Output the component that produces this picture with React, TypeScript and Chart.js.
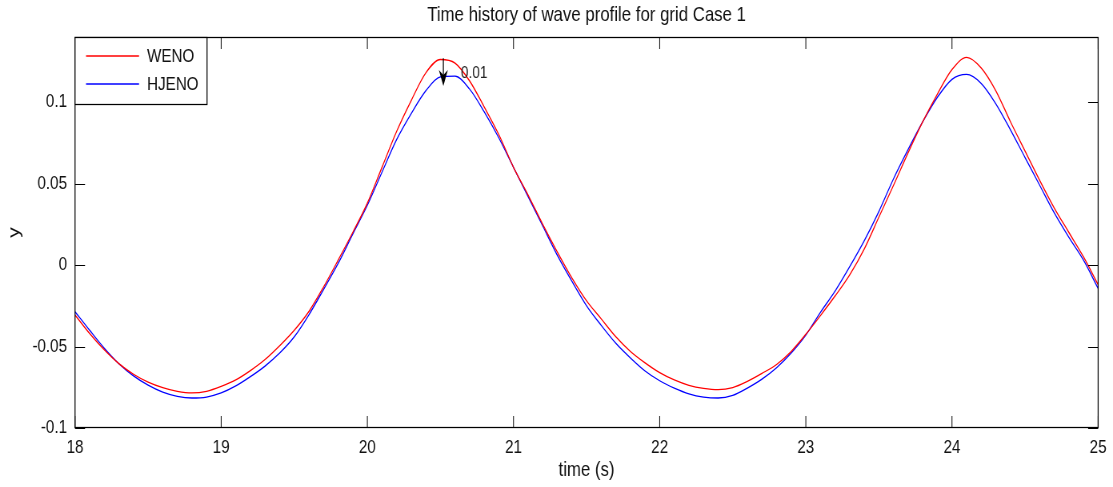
import { useEffect, useRef } from "react";
import { Chart, registerables } from "chart.js";

Chart.register(...registerables);

// ---------- data ----------
const timeValues = [
  18.0, 18.1, 18.2, 18.3, 18.4, 18.5, 18.6, 18.7, 18.8, 18.9,
  19.0, 19.1, 19.2, 19.3, 19.4, 19.5, 19.6, 19.7, 19.8, 19.9,
  20.0, 20.1, 20.2, 20.3, 20.4, 20.5, 20.6, 20.7, 20.8, 20.9,
  21.0, 21.1, 21.2, 21.3, 21.4, 21.5, 21.6, 21.7, 21.8, 21.9,
  22.0, 22.1, 22.2, 22.3, 22.4, 22.5, 22.6, 22.7, 22.8, 22.9,
  23.0, 23.1, 23.2, 23.3, 23.4, 23.5, 23.6, 23.7, 23.8, 23.9,
  24.0, 24.1, 24.2, 24.3, 24.4, 24.5, 24.6, 24.7, 24.8, 24.9,
  25.0,
];

const wenoValues = [
  -0.0306, -0.042, -0.052, -0.0605, -0.067, -0.0718, -0.0752, -0.0775, -0.0785, -0.0775,
  -0.0745, -0.0705, -0.0648, -0.058, -0.0495, -0.04, -0.0285, -0.0135, 0.003, 0.02,
  0.038, 0.06, 0.082, 0.101, 0.118, 0.1262, 0.124, 0.113, 0.097, 0.08,
  0.06, 0.043, 0.025, 0.008, -0.008, -0.022, -0.033, -0.044, -0.053, -0.06,
  -0.066, -0.0705, -0.0738, -0.0757, -0.0765, -0.0752, -0.0714, -0.0665, -0.061, -0.053,
  -0.0425, -0.031, -0.019, -0.006, 0.01, 0.0295, 0.049, 0.069, 0.088, 0.105,
  0.12, 0.1275, 0.121, 0.107, 0.088, 0.07, 0.052, 0.035, 0.02, 0.005,
  -0.012,
];

const hjenoValues = [
  -0.0286, -0.04, -0.051, -0.0605, -0.068, -0.0737, -0.078, -0.0806, -0.0816, -0.081,
  -0.0785, -0.0742, -0.0685, -0.062, -0.054, -0.044, -0.0305, -0.015, 0.001, 0.019,
  0.0367, 0.057, 0.077, 0.093, 0.107, 0.1155, 0.116, 0.108, 0.094, 0.078,
  0.06, 0.042, 0.024, 0.006, -0.01, -0.025, -0.037, -0.048, -0.057, -0.065,
  -0.071, -0.0755, -0.079, -0.081, -0.0816, -0.08, -0.0755, -0.07, -0.063, -0.054,
  -0.043, -0.029, -0.016, -0.001, 0.015, 0.033, 0.053, 0.071, 0.088, 0.103,
  0.114, 0.117, 0.1115, 0.099, 0.083, 0.066, 0.049, 0.032, 0.017, 0.003,
  -0.0143,
];

const seriesNames = ["WENO", "HJENO"];
const seriesColors = ["#ff0000", "#0000ff"];
const xTickValues = [18, 19, 20, 21, 22, 23, 24, 25];
const xTickLabels = ["18", "19", "20", "21", "22", "23", "24", "25"];
const yTickValues = [-0.1, -0.05, 0, 0.05, 0.1];
const yTickLabels = ["-0.1", "-0.05", "0", "0.05", "0.1"];

const chartTitle = "Time history of wave profile for grid Case 1";
const xAxisTitle = "time (s)";
const yAxisTitle = "y";

// annotation: arrow with label
const arrowX = 20.52;
const arrowFromY = 0.127;
const arrowToY = 0.11;
const arrowLabel = "0.01";
const arrowLabelX = 20.64;
const arrowLabelY = 0.118;

// ---------- styles ----------
// The figure is drawn on a wider canvas and squeezed horizontally (like the reference)
const SQUEEZE = 0.8;
const VIEW_W = 1113;
const VIEW_H = 487;
const CANVAS_W = Math.round(VIEW_W / SQUEEZE);
const sx = (px: number) => px / SQUEEZE; // display px -> canvas px (horizontal)

const FONT = "'Liberation Sans', Arial, Helvetica, sans-serif";

const framePlugin = {
  id: "matlabFrame",
  afterDatasetsDraw(chart: any) {
    const { ctx, chartArea: a, scales } = chart;
    const xs = scales.x;
    const ys = scales.y;
    ctx.save();
    ctx.strokeStyle = "#000";
    ctx.lineWidth = 1;
    // inward ticks on all four sides
    ctx.beginPath();
    for (const v of xTickValues) {
      const px = xs.getPixelForValue(v);
      ctx.moveTo(px, a.bottom);
      ctx.lineTo(px, a.bottom - 12);
      ctx.moveTo(px, a.top);
      ctx.lineTo(px, a.top + 12);
    }
    ctx.stroke();
    ctx.beginPath();
    for (const v of yTickValues) {
      const py = Math.round(ys.getPixelForValue(v)) + 0.5;
      ctx.moveTo(a.left, py);
      ctx.lineTo(a.left + sx(10), py);
      ctx.moveTo(a.right, py);
      ctx.lineTo(a.right - sx(10), py);
    }
    ctx.stroke();
    // box
    ctx.lineWidth = 1.25;
    ctx.strokeRect(a.left, Math.round(a.top) + 0.5, a.width, Math.round(a.height) - 1);

    // legend box
    const lx = a.left;
    const ly = Math.round(a.top) + 0.5;
    const lw = sx(132);
    const lh = 67;
    ctx.fillStyle = "#ffffff";
    ctx.fillRect(lx, ly, lw, lh);
    ctx.strokeStyle = "#000000";
    ctx.lineWidth = 1.25;
    ctx.strokeRect(lx, ly, lw, lh);
    const rows = [18, 46];
    ctx.font = `19px ${FONT}`;
    ctx.textBaseline = "middle";
    ctx.textAlign = "left";
    for (let i = 0; i < chart.data.datasets.length; i++) {
      const ds = chart.data.datasets[i];
      const y = Math.round(ly + rows[i]);
      ctx.beginPath();
      ctx.strokeStyle = seriesColors[i];
      ctx.lineWidth = 1.4;
      ctx.moveTo(lx + sx(11), y);
      ctx.lineTo(lx + sx(64), y);
      ctx.stroke();
      ctx.fillStyle = "#111111";
      ctx.fillText(ds.label, lx + sx(72), y + 1);
    }

    // arrow annotation
    const ax = xs.getPixelForValue(arrowX);
    const ay1 = ys.getPixelForValue(arrowFromY);
    const ay2 = ys.getPixelForValue(arrowToY);
    ctx.strokeStyle = "#000000";
    ctx.lineWidth = 1.25;
    ctx.beginPath();
    ctx.moveTo(ax, ay1);
    ctx.lineTo(ax, ay2 - 8);
    ctx.stroke();
    ctx.fillStyle = "#000000";
    ctx.beginPath();
    ctx.moveTo(ax, ay2);
    ctx.lineTo(ax - sx(4.5), ay2 - 16);
    ctx.lineTo(ax, ay2 - 11);
    ctx.lineTo(ax + sx(4.5), ay2 - 16);
    ctx.closePath();
    ctx.fill();
    ctx.font = `17px ${FONT}`;
    ctx.fillStyle = "#222222";
    ctx.textBaseline = "middle";
    ctx.fillText(arrowLabel, xs.getPixelForValue(arrowLabelX), ys.getPixelForValue(arrowLabelY));
    ctx.restore();
  },
};

export default function App() {
  const canvasRef = useRef<HTMLCanvasElement | null>(null);

  useEffect(() => {
    if (!canvasRef.current) return;
    Chart.defaults.font.family = FONT;
    const chart = new Chart(canvasRef.current, {
      type: "line",
      data: {
        datasets: [
          {
            label: seriesNames[0],
            data: timeValues.map((t, i) => ({ x: t, y: wenoValues[i] })),
            borderColor: seriesColors[0],
            borderWidth: 1.3,
            pointRadius: 0,
            cubicInterpolationMode: "monotone",
            fill: false,
          },
          {
            label: seriesNames[1],
            data: timeValues.map((t, i) => ({ x: t, y: hjenoValues[i] })),
            borderColor: seriesColors[1],
            borderWidth: 1.3,
            pointRadius: 0,
            cubicInterpolationMode: "monotone",
            fill: false,
          },
        ],
      },
      options: {
        animation: false,
        responsive: false,
        devicePixelRatio: 1,
        layout: { padding: { top: 0, right: CANVAS_W - sx(1098), bottom: 0, left: 0 } },
        plugins: {
          legend: { display: false },
          tooltip: { enabled: false },
          title: {
            display: true,
            fullSize: false,
            text: chartTitle,
            color: "#111",
            font: { family: FONT, size: 21, weight: "normal", lineHeight: 1 },
            padding: { top: 5, bottom: 11 },
          },
        },
        scales: {
          x: {
            type: "linear",
            min: 18,
            max: 25,
            afterBuildTicks: (scale: any) => {
              scale.ticks = xTickValues.map((v) => ({ value: v }));
            },
            afterFit: (scale: any) => {
              scale.height = 59;
            },
            grid: { display: false, drawTicks: false },
            border: { display: false },
            ticks: {
              color: "#111",
              font: { family: FONT, size: 19 },
              padding: 8,
              maxRotation: 0,
              autoSkip: false,
              callback: (v: any) => {
                const i = xTickValues.indexOf(Number(v));
                return i >= 0 ? xTickLabels[i] : "";
              },
            },
            title: {
              display: true,
              text: xAxisTitle,
              color: "#111",
              font: { family: FONT, size: 21, lineHeight: 1.2 },
              padding: { top: 0, bottom: 4 },
            },
          },
          y: {
            type: "linear",
            min: -0.1,
            max: 0.14,
            afterBuildTicks: (scale: any) => {
              scale.ticks = yTickValues.map((v) => ({ value: v }));
            },
            afterFit: (scale: any) => {
              scale.width = sx(75);
            },
            grid: { display: false, drawTicks: false },
            border: { display: false },
            ticks: {
              color: "#111",
              font: { family: FONT, size: 19 },
              padding: sx(8),
              autoSkip: false,
              callback: (v: any) => {
                const i = yTickValues.findIndex((t) => Math.abs(t - Number(v)) < 1e-9);
                return i >= 0 ? yTickLabels[i] : "";
              },
            },
            title: {
              display: true,
              text: yAxisTitle,
              color: "#111",
              font: { family: FONT, size: 21, lineHeight: 1.2 },
              padding: { top: 6, bottom: 0 },
            },
          },
        },
      },
      plugins: [framePlugin],
    });
    return () => chart.destroy();
  }, []);

  return (
    <div style={{ position: "fixed", left: 0, top: 0, width: VIEW_W, height: VIEW_H, background: "#fff", overflow: "hidden" }}>
      <canvas
        ref={canvasRef}
        width={CANVAS_W}
        height={VIEW_H}
        style={{ width: VIEW_W, height: VIEW_H, display: "block" }}
      />
    </div>
  );
}
